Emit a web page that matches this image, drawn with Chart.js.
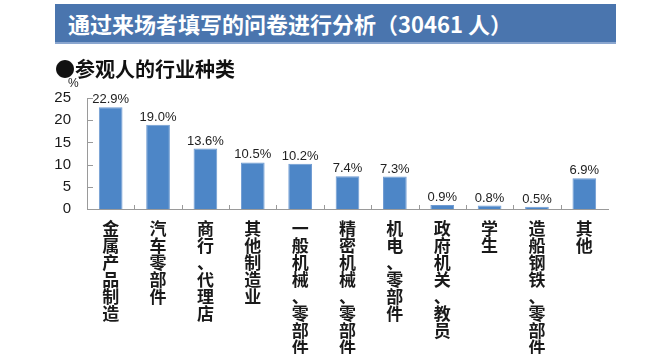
<!DOCTYPE html>
<html>
<head>
<meta charset="utf-8">
<script src="https://cdn.jsdelivr.net/npm/chart.js@4/dist/chart.umd.min.js"></script>
<style>
  body { margin: 0; background: #fff; }
  #wrap { position: relative; width: 650px; height: 354px; overflow: hidden; }
  #banner {
    position: absolute; left: 55px; top: 4px; width: 548px; height: 38px;
    background: #4a75ae; border-bottom: 2px solid #8aa6cf;
    color: #fff; font: bold 22px "Noto Sans CJK SC", sans-serif;
    line-height: 38px; padding-left: 13px; box-sizing: content-box;
  }
  #sub {
    position: absolute; left: 55px; top: 57px;
    font: bold 20px "Noto Sans CJK SC", sans-serif; color: #111; line-height: 24px;
  }
  canvas { position: absolute; left: 0; top: 0; }
</style>
</head>
<body>
<div id="wrap">
  <canvas id="industryChart" width="650" height="354"></canvas>
  <div id="banner">通过来场者填写的问卷进行分析（30461 人）</div>
  <div id="sub">●参观人的行业种类</div>
</div>
<script>
const categories = ['金属产品制造', '汽车零部件', '商行、代理店', '其他制造业', '一般机械、零部件',
  '精密机械、零部件', '机电、零部件', '政府机关、教员', '学生', '造船钢铁、零部件', '其他'];
const shares = [22.9, 19.0, 13.6, 10.5, 10.2, 7.4, 7.3, 0.9, 0.8, 0.5, 6.9];
const yTicks = [0, 5, 10, 15, 20, 25];

const axisColor = '#9a9a9a';

// value labels, "%" unit and the small inward tick marks
const extras = {
  id: 'extras',
  afterDraw(chart) {
    const c = chart.ctx;
    const x = chart.scales.x, y = chart.scales.y;
    const area = chart.chartArea;
    c.save();
    c.strokeStyle = axisColor;
    c.lineWidth = 1;
    c.beginPath();
    yTicks.forEach(v => {
      const py = Math.round(y.getPixelForValue(v)) + 0.5;
      c.moveTo(area.left, py);
      c.lineTo(area.left + 6, py);
    });
    for (let i = 1; i < categories.length; i++) {
      const px = Math.round((x.getPixelForValue(i - 1) + x.getPixelForValue(i)) / 2) + 0.5;
      c.moveTo(px, area.bottom);
      c.lineTo(px, area.bottom - 4);
    }
    c.stroke();

    c.fillStyle = '#222';
    c.font = '13px "Liberation Sans", Arial, sans-serif';
    c.textAlign = 'center';
    c.textBaseline = 'bottom';
    chart.getDatasetMeta(0).data.forEach((bar, i) => {
      c.fillText(shares[i].toFixed(1) + '%', bar.x, bar.y - 1);
    });

    c.font = '12px "Liberation Sans", Arial, sans-serif';
    c.textAlign = 'left';
    c.fillText('%', 68, 90);
    c.restore();
  }
};

new Chart(document.getElementById('industryChart'), {
  type: 'bar',
  data: {
    labels: categories.map(s => Array.from(s)),
    datasets: [{
      data: shares,
      backgroundColor: '#4d86c7',
      borderColor: '#6f9bd2',
      borderWidth: 1,
      categoryPercentage: 1,
      barPercentage: 0.5
    }]
  },
  options: {
    responsive: false,
    animation: false,
    layout: { padding: { top: 98, right: 42, left: 0, bottom: 0 } },
    plugins: { legend: { display: false }, tooltip: { enabled: false } },
    scales: {
      x: {
        grid: { display: false },
        border: { color: axisColor },
        ticks: {
          color: '#1a1a1a',
          maxRotation: 0,
          autoSkip: false,
          padding: 3,
          font: { family: '"Noto Sans CJK SC", sans-serif', size: 17, weight: 'bold', lineHeight: 1 }
        },
        afterFit(s) { s.height = 145; }
      },
      y: {
        min: 0,
        max: 25,
        grid: { display: false },
        border: { color: axisColor },
        ticks: {
          stepSize: 5,
          color: '#1a1a1a',
          padding: 8,
          font: { family: '"Liberation Sans", Arial, sans-serif', size: 15 }
        },
        afterFit(s) { s.width = 87; }
      }
    }
  },
  plugins: [extras]
});
</script>
</body>
</html>
